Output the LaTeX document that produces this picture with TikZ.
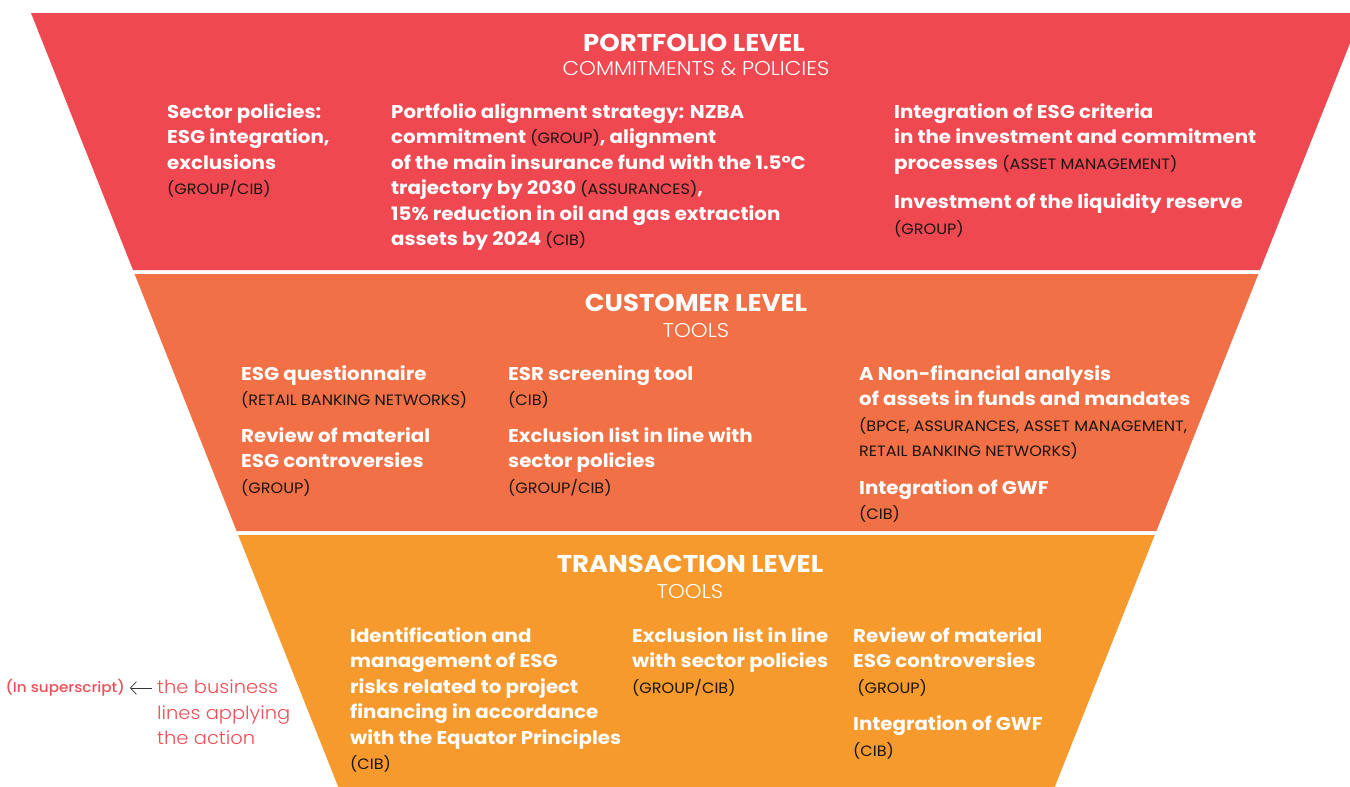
\documentclass[tikz,border=0pt]{standalone}
\usepackage{fontspec}
\setmainfont{Poppins}[FakeStretch=1.07]
\newfontfamily\lightfont{Poppins Light}[FakeStretch=1.07]
\newfontfamily\mediumfont{Poppins Medium}[FakeStretch=1.07]
\usetikzlibrary{arrows.meta}

\definecolor{portred}{RGB}{239,72,80}
\definecolor{custorange}{RGB}{242,112,70}
\definecolor{transorange}{RGB}{246,154,46}
\definecolor{legendred}{RGB}{238,78,86}
\definecolor{bracketblack}{RGB}{25,20,20}

% business lines in brackets
\newcommand{\bizfont}{\fontsize{15}{16}\selectfont\mdseries\color{bracketblack}}
\newcommand{\biz}[1]{{\bizfont(#1)}}

\tikzset{
  lvltitle/.style={font=\fontsize{24.3}{26}\selectfont\bfseries, text=white, align=center, inner sep=0pt},
  lvlsub/.style={font=\fontsize{20}{22}\selectfont\lightfont, text=white},
  item/.style={font=\fontsize{18.5}{25.5}\selectfont\bfseries, text=white, align=left, anchor=north west, inner sep=0pt},
}

\begin{document}
\begin{tikzpicture}[x=1pt,y=-1pt]
\useasboundingbox (0,0) rectangle (1350,787);
\begin{scope}
\clip (0,0) rectangle (1350,787);
% funnel bands
\fill[portred] (31,13) -- (1362,13) -- (1260,270) -- (133,270) -- cycle;
\fill[custorange] (134.6,274) -- (1258.4,274) -- (1156.4,531) -- (236.6,531) -- cycle;
\fill[transorange] (238.2,535) -- (1154.8,535) -- (1054.7,787) -- (338.3,787) -- cycle;
\end{scope}

% portfolio level
\node[lvltitle] (porttitle) at (694,43) {PORTFOLIO LEVEL};
\node[lvlsub] (portsub) at (696,69) {COMMITMENTS \& POLICIES};
\node[item] (sectorpol) at (167,103) {Sector policies:\\ESG integration,\\exclusions\\\biz{GROUP/CIB}};
\node[item] (alignstrat) at (391,103) {Portfolio alignment strategy: NZBA\\commitment \biz{GROUP}, alignment\\of the main insurance fund with the 1.5°C\\trajectory by 2030 \biz{ASSURANCES},\\15\% reduction in oil and gas extraction\\assets by 2024 \biz{CIB}};
\node[item] (esgcrit) at (894,103) {Integration of ESG criteria\\in the investment and commitment\\processes \biz{ASSET MANAGEMENT}\\[14pt]Investment of the liquidity reserve\\\biz{GROUP}};

% customer level
\node[lvltitle] (custtitle) at (696,303) {CUSTOMER LEVEL};
\node[lvlsub] (custsub) at (696,330) {TOOLS};
\node[item] (questionnaire) at (241,365) {ESG questionnaire\\\biz{RETAIL BANKING NETWORKS}\\[11pt]Review of material\\ESG controversies\\\biz{GROUP}};
\node[item] (esrtool) at (508,365) {ESR screening tool\\\biz{CIB}\\[11pt]Exclusion list in line with\\sector policies\\\biz{GROUP/CIB}};
\node[item] (nonfin) at (859,365) {A Non-financial analysis\\of assets in funds and mandates\\{\bizfont(BPCE, ASSURANCES, ASSET MANAGEMENT,}\\{\bizfont RETAIL BANKING NETWORKS)}\\[12pt]Integration of GWF\\\biz{CIB}};

% transaction level
\node[lvltitle] (transtitle) at (690,564) {TRANSACTION LEVEL};
\node[lvlsub] (transsub) at (690,591) {TOOLS};
\node[item] (equator) at (350,627) {Identification and\\management of ESG\\risks related to project\\financing in accordance\\with the Equator Principles\\\biz{CIB}};
\node[item] (exclist) at (632,627) {Exclusion list in line\\with sector policies\\\biz{GROUP/CIB}};
\node[item] (controv) at (853,627) {Review of material\\ESG controversies\\\ \biz{GROUP}\\[12pt]Integration of GWF\\\biz{CIB}};

% legend
\node[font=\fontsize{14.2}{18}\selectfont\mediumfont, text=legendred, anchor=east, inner sep=0pt] (insup) at (125,688) {(In superscript)};
\node[font=\fontsize{18.2}{25.5}\selectfont\lightfont, text=legendred, align=left, anchor=north west, inner sep=0pt] (bizlines) at (157,680) {the business\\lines applying\\the action};
\draw[-{Straight Barb[length=6pt,width=13pt]}, line width=0.7pt, black!80] (bizlines.west |- insup.east) ++(-5,0) -- ([xshift=5pt]insup.east);
\end{tikzpicture}
\end{document}
